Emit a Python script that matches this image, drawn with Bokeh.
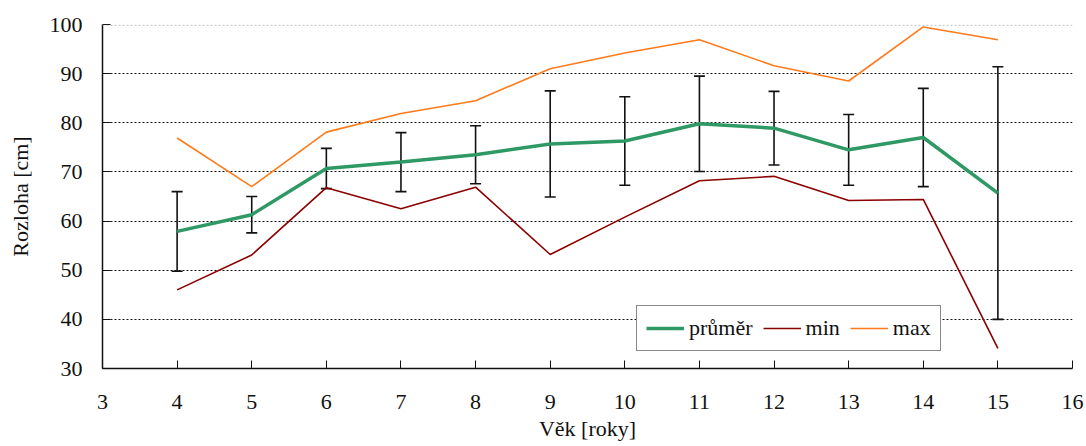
from bokeh.plotting import figure
from bokeh.models import ColumnDataSource, Whisker, TeeHead, Legend, LegendItem, FixedTicker, Range1d, Span
from bokeh.embed import file_html
from bokeh.resources import INLINE

ages = [4, 5, 6, 7, 8, 9, 10, 11, 12, 13, 14, 15]
mean_vals = [57.9, 61.3, 70.7, 72.0, 73.5, 75.7, 76.3, 79.8, 78.9, 74.5, 77.0, 65.7]
sd_vals = [8.1, 3.7, 4.1, 6.0, 5.9, 10.8, 9.0, 9.7, 7.5, 7.2, 10.0, 25.7]
min_vals = [46.0, 53.1, 66.8, 62.5, 66.9, 53.2, 60.8, 68.2, 69.1, 64.2, 64.4, 34.1]
max_vals = [76.9, 67.0, 78.1, 81.9, 84.5, 91.0, 94.2, 96.9, 91.6, 88.5, 99.5, 96.9]
x_ticks = list(range(3, 17))
y_ticks = list(range(30, 101, 10))

FONT = "Liberation Serif"

src = ColumnDataSource(dict(
    x=ages, mean=mean_vals, mn=min_vals, mx=max_vals,
    upper=[m + s for m, s in zip(mean_vals, sd_vals)],
    lower=[m - s for m, s in zip(mean_vals, sd_vals)],
))

p = figure(width=1086, height=446, output_backend="svg", toolbar_location=None,
           x_range=Range1d(3, 16), y_range=Range1d(30, 100),
           min_border_left=102, min_border_right=14, min_border_top=24, min_border_bottom=78)
p.outline_line_color = None
p.background_fill_color = "white"
p.border_fill_color = "white"

top_line = Span(location=99.85, dimension="width", line_color="#b8b8b8",
                line_dash="2 2", line_width=1)
p.add_layout(top_line)

r_min = p.line("x", "mn", source=src, line_color="#8B0000", line_width=1.6)
r_max = p.line("x", "mx", source=src, line_color="#FF7A1A", line_width=1.6)
r_mean = p.line("x", "mean", source=src, line_color="#2E9964", line_width=3.5)

w = Whisker(source=src, base="x", upper="upper", lower="lower", dimension="height",
            line_color="#111111", line_width=1.6,
            upper_head=TeeHead(size=11, line_color="#111111", line_width=1.6),
            lower_head=TeeHead(size=11, line_color="#111111", line_width=1.6))
p.add_layout(w)

p.xgrid.grid_line_color = None
p.ygrid.grid_line_color = "#111111"
p.ygrid.grid_line_dash = "2 2"
p.ygrid.grid_line_width = 1

p.xaxis.ticker = FixedTicker(ticks=x_ticks)
p.yaxis.ticker = FixedTicker(ticks=y_ticks)
for ax in (p.xaxis[0], p.yaxis[0]):
    ax.axis_line_color = "#111111"
    ax.axis_line_width = 1.5
    ax.major_tick_line_color = "#111111"
    ax.major_tick_in = 8
    ax.major_tick_out = 0
    ax.minor_tick_line_color = None
    ax.major_label_text_font = FONT
    ax.major_label_text_font_size = "22px"
    ax.major_label_text_color = "#111111"
    ax.axis_label_text_font = FONT
    ax.axis_label_text_font_size = "22px"
    ax.axis_label_text_font_style = "normal"
    ax.axis_label_text_color = "#111111"

p.xaxis.axis_label = "Věk [roky]"
p.yaxis.axis_label = "Rozloha [cm]"
p.xaxis.major_label_standoff = 26
p.xaxis.axis_label_standoff = 4
p.yaxis.major_label_standoff = 20
p.yaxis.axis_label_standoff = 14

legend = Legend(items=[
    LegendItem(label="průměr", renderers=[r_mean]),
    LegendItem(label="min", renderers=[r_min]),
    LegendItem(label="max", renderers=[r_max]),
], orientation="horizontal", location=(534, 17))
legend.label_text_font = FONT
legend.label_text_font_size = "22px"
legend.label_text_color = "#111111"
legend.border_line_color = "#111111"
legend.border_line_width = 1.2
legend.background_fill_alpha = 1
legend.padding = 9
legend.spacing = 10
legend.label_standoff = 5
legend.glyph_width = 38
legend.glyph_height = 22
legend.label_height = 22
legend.margin = 0
p.add_layout(legend, "center")

open("out.html", "w").write(file_html(p, INLINE))
